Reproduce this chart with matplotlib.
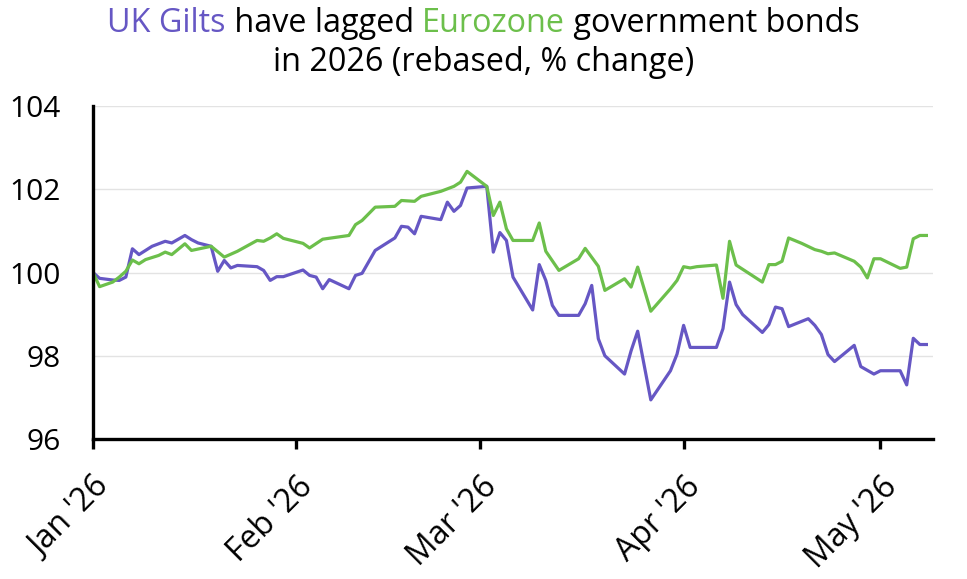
import numpy as np
import pandas as pd
import matplotlib
matplotlib.use("Agg")
import matplotlib.pyplot as plt
import matplotlib.dates as mdates
import matplotlib.transforms as mtransforms

plt.rcParams['font.family'] = ['Open Sans', 'DejaVu Sans']

# UK Gilts (rebased to 100)
gilt_dates = ["2026-01-01", "2026-01-02", "2026-01-04", "2026-01-05", "2026-01-06", "2026-01-07",
              "2026-01-08", "2026-01-09", "2026-01-10", "2026-01-11", "2026-01-12", "2026-01-13",
              "2026-01-15", "2026-01-16", "2026-01-17", "2026-01-19", "2026-01-20", "2026-01-21",
              "2026-01-22", "2026-01-23", "2026-01-26", "2026-01-27", "2026-01-28", "2026-01-29",
              "2026-01-30", "2026-02-02", "2026-02-03", "2026-02-04", "2026-02-05", "2026-02-06",
              "2026-02-09", "2026-02-10", "2026-02-11", "2026-02-13", "2026-02-16", "2026-02-17",
              "2026-02-18", "2026-02-19", "2026-02-20", "2026-02-23", "2026-02-24", "2026-02-25",
              "2026-02-26", "2026-02-27", "2026-03-02", "2026-03-03", "2026-03-04", "2026-03-05",
              "2026-03-06", "2026-03-09", "2026-03-10", "2026-03-11", "2026-03-12", "2026-03-13",
              "2026-03-16", "2026-03-17", "2026-03-18", "2026-03-19", "2026-03-20", "2026-03-23",
              "2026-03-24", "2026-03-25", "2026-03-27", "2026-03-30", "2026-03-31", "2026-04-01",
              "2026-04-02", "2026-04-06", "2026-04-07", "2026-04-08", "2026-04-09", "2026-04-10",
              "2026-04-13", "2026-04-14", "2026-04-15", "2026-04-16", "2026-04-17", "2026-04-20",
              "2026-04-21", "2026-04-22", "2026-04-23", "2026-04-24", "2026-04-27", "2026-04-28",
              "2026-04-30", "2026-05-01", "2026-05-04", "2026-05-05", "2026-05-06", "2026-05-07",
              "2026-05-08"]
gilt_vals = [100.00, 99.86, 99.82, 99.81, 99.89, 100.57,
             100.43, 100.53, 100.63, 100.69, 100.75, 100.71,
             100.89, 100.79, 100.71, 100.63, 100.03, 100.29,
             100.11, 100.17, 100.14, 100.05, 99.81, 99.90,
             99.90, 100.06, 99.93, 99.89, 99.61, 99.83,
             99.61, 99.93, 99.98, 100.53, 100.83, 101.11,
             101.09, 100.93, 101.35, 101.27, 101.69, 101.47,
             101.61, 102.03, 102.07, 100.49, 100.96, 100.77,
             99.89, 99.10, 100.19, 99.81, 99.21, 98.97,
             98.97, 99.25, 99.69, 98.41, 98.00, 97.56,
             98.12, 98.59, 96.94, 97.64, 98.04, 98.73,
             98.20, 98.20, 98.65, 99.77, 99.23, 98.99,
             98.56, 98.75, 99.17, 99.13, 98.70, 98.89,
             98.73, 98.51, 98.03, 97.86, 98.25, 97.74,
             97.56, 97.64, 97.64, 97.30, 98.42, 98.27,
             98.27]

# Eurozone government bonds (rebased to 100)
euro_dates = ["2026-01-01", "2026-01-02", "2026-01-04", "2026-01-05", "2026-01-06", "2026-01-07",
              "2026-01-08", "2026-01-09", "2026-01-11", "2026-01-12", "2026-01-13", "2026-01-15",
              "2026-01-16", "2026-01-19", "2026-01-21", "2026-01-23", "2026-01-26", "2026-01-27",
              "2026-01-28", "2026-01-29", "2026-01-30", "2026-02-02", "2026-02-03", "2026-02-05",
              "2026-02-09", "2026-02-10", "2026-02-11", "2026-02-13", "2026-02-16", "2026-02-17",
              "2026-02-19", "2026-02-20", "2026-02-23", "2026-02-25", "2026-02-26", "2026-02-27",
              "2026-03-02", "2026-03-03", "2026-03-04", "2026-03-05", "2026-03-06", "2026-03-09",
              "2026-03-10", "2026-03-11", "2026-03-13", "2026-03-16", "2026-03-17", "2026-03-19",
              "2026-03-20", "2026-03-23", "2026-03-24", "2026-03-25", "2026-03-27", "2026-03-30",
              "2026-03-31", "2026-04-01", "2026-04-02", "2026-04-03", "2026-04-06", "2026-04-07",
              "2026-04-08", "2026-04-09", "2026-04-13", "2026-04-14", "2026-04-15", "2026-04-16",
              "2026-04-17", "2026-04-19", "2026-04-21", "2026-04-22", "2026-04-23", "2026-04-24",
              "2026-04-27", "2026-04-28", "2026-04-29", "2026-04-30", "2026-05-01", "2026-05-04",
              "2026-05-05", "2026-05-06", "2026-05-07", "2026-05-08"]
euro_vals = [100.00, 99.66, 99.77, 99.89, 100.03, 100.30,
             100.21, 100.31, 100.41, 100.49, 100.43, 100.69,
             100.53, 100.63, 100.37, 100.51, 100.77, 100.75,
             100.83, 100.93, 100.82, 100.70, 100.59, 100.80,
             100.89, 101.15, 101.25, 101.57, 101.59, 101.73,
             101.71, 101.83, 101.95, 102.07, 102.17, 102.43,
             102.07, 101.37, 101.69, 101.05, 100.77, 100.77,
             101.19, 100.51, 100.05, 100.33, 100.58, 100.15,
             99.57, 99.85, 99.65, 100.13, 99.07, 99.61,
             99.81, 100.14, 100.11, 100.14, 100.18, 99.38,
             100.75, 100.18, 99.77, 100.19, 100.19, 100.27,
             100.83, 100.70, 100.55, 100.51, 100.45, 100.47,
             100.27, 100.13, 99.87, 100.33, 100.33, 100.10,
             100.13, 100.81, 100.89, 100.89]

yticks = [96, 98, 100, 102, 104]
purple = "#6657c4"
green = "#6cbf4b"

fig = plt.figure(figsize=(9.67, 5.79), dpi=100)
ax = fig.add_axes([0.0962, 0.2418, 0.8686, 0.5751])

ax.plot(pd.to_datetime(gilt_dates), gilt_vals, color=purple, lw=2.3, zorder=3)
ax.plot(pd.to_datetime(euro_dates), euro_vals, color=green, lw=2.3, zorder=3)

ax.set_ylim(96, 104)
ax.set_yticks(yticks)
ax.set_xlim(pd.Timestamp("2026-01-01"), pd.Timestamp("2026-05-09"))
ax.xaxis.set_major_locator(mdates.MonthLocator())
ax.xaxis.set_major_formatter(mdates.DateFormatter("%b '%y"))

ax.grid(axis='y', color='#e3e3e3', lw=1, zorder=0)
for s in ['top', 'right']:
    ax.spines[s].set_visible(False)
for s in ['left', 'bottom']:
    ax.spines[s].set_linewidth(2.4)
    ax.spines[s].set_color('black')
    ax.spines[s].set_zorder(4)

ax.tick_params(axis='y', length=0, pad=23, labelsize=21.5)
ax.tick_params(axis='x', length=7, width=2.4, labelsize=23, pad=4)
shift = mtransforms.ScaledTranslation(0.0, -0.16, fig.dpi_scale_trans)
for lab in ax.get_xticklabels():
    lab.set_rotation(45)
    lab.set_ha('right')
    lab.set_rotation_mode('anchor')
    lab.set_transform(lab.get_transform() + shift)

# two-colour title
fig.canvas.draw()
r = fig.canvas.get_renderer()
pieces = [("UK Gilts", purple), (" have lagged ", "black"), ("Eurozone", green), (" government bonds", "black")]
fs = 23.3
widths = []
for txt, c in pieces:
    t = fig.text(0, 0, txt, fontsize=fs)
    widths.append(t.get_window_extent(r).width)
    t.remove()
x0 = (fig.bbox.width - sum(widths)) / 2
for (txt, c), w in zip(pieces, widths):
    fig.text(x0 / fig.bbox.width, 0.9447, txt, fontsize=fs, color=c, va='baseline', ha='left')
    x0 += w
fig.text(0.5, 0.8774, "in 2026 (rebased, % change)", fontsize=fs, color='black',
         va='baseline', ha='center')

plt.savefig("out.png", dpi=100)
plt.close()
